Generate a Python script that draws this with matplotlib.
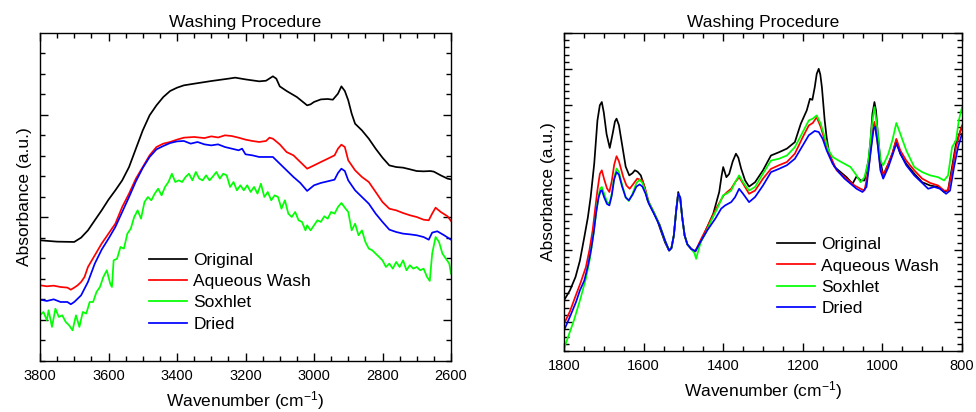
import numpy as np
import matplotlib
matplotlib.use("Agg")
import matplotlib.pyplot as plt
from matplotlib.ticker import MultipleLocator

plt.rcParams['font.family'] = ['Liberation Sans', 'DejaVu Sans']
plt.rcParams['mathtext.default'] = 'regular'

# --- high wavenumber region (3800-2600 cm-1) ---
hi_wn_orig = [3800, 3750, 3700, 3680, 3660, 3640, 3620, 3600, 3580, 3560, 3540, 3520, 3500,
              3480, 3460, 3440, 3420, 3400, 3380, 3350, 3300, 3250, 3230, 3200, 3160, 3140,
              3120, 3110, 3100, 3080, 3050, 3020, 3010, 3000, 2980, 2960, 2945, 2930, 2920,
              2910, 2900, 2890, 2880, 2860, 2840, 2820, 2800, 2780, 2760, 2740, 2720, 2700,
              2680, 2660, 2650, 2630, 2610, 2600]
hi_orig = [77.6, 76.3, 76.0, 80.2, 87.3, 97.1, 106.8, 117.2, 126.3, 136.0, 149.0, 166.9, 184.7,
           199.4, 209.1, 217.2, 223.1, 226.3, 228.6, 230.2, 232.8, 235.1, 236.1, 234.4, 232.5, 233.1,
           237.4, 235.1, 227.6, 223.1, 217.2, 209.1, 210.1, 212.4, 214.9, 215.3, 214.6, 220.5, 227.6,
           223.1, 214.0, 201.0, 191.2, 184.7, 176.6, 166.9, 158.1, 150.6, 149.0, 148.4, 146.8, 145.1,
           144.8, 145.1, 144.5, 140.9, 137.7, 137.0]

hi_wn_aq = [3800, 3780, 3760, 3740, 3720, 3710, 3700, 3690, 3680, 3670, 3660, 3640, 3620, 3600,
            3590, 3580, 3560, 3540, 3520, 3500, 3480, 3460, 3440, 3420, 3400, 3380, 3350, 3320,
            3300, 3280, 3260, 3240, 3220, 3200, 3180, 3160, 3140, 3130, 3120, 3100, 3080, 3060,
            3040, 3020, 3000, 2980, 2960, 2940, 2930, 2920, 2910, 2900, 2880, 2860, 2840, 2820,
            2800, 2780, 2760, 2740, 2720, 2700, 2680, 2665, 2655, 2645, 2630, 2610, 2600]
hi_aq = [33.8, 32.8, 33.4, 32.1, 31.5, 29.5, 31.5, 33.8, 37.0, 41.9, 51.6, 63.0, 74.4, 84.1,
         89.0, 93.8, 110.1, 123.1, 137.7, 149.0, 160.4, 168.5, 171.8, 173.4, 175.7, 177.6, 178.3, 177.2,
         178.9, 177.8, 179.9, 179.2, 177.6, 175.7, 174.4, 173.4, 174.4, 177.6, 176.6, 171.1, 163.6, 160.4,
         153.9, 147.4, 150.6, 153.9, 157.1, 160.4, 166.9, 170.8, 168.5, 155.5, 145.8, 139.3, 134.4, 124.7,
         114.9, 108.4, 106.8, 104.2, 102.0, 100.3, 97.7, 97.1, 103.6, 109.4, 105.2, 101.0, 96.4]

hi_wn_sox = [3800, 3790, 3780, 3775, 3765, 3755, 3745, 3735, 3725, 3715, 3705, 3695, 3685, 3675,
             3665, 3655, 3645, 3635, 3625, 3615, 3605, 3595, 3590, 3585, 3575, 3565, 3555, 3545,
             3535, 3525, 3515, 3505, 3495, 3485, 3475, 3465, 3455, 3445, 3435, 3425, 3415, 3405,
             3395, 3385, 3375, 3365, 3355, 3345, 3335, 3325, 3315, 3305, 3295, 3285, 3275, 3265,
             3255, 3245, 3235, 3225, 3215, 3205, 3195, 3185, 3175, 3165, 3155, 3145, 3135, 3125,
             3115, 3105, 3095, 3085, 3075, 3065, 3055, 3045, 3035, 3025, 3020, 3010, 3000, 2990,
             2980, 2970, 2960, 2950, 2940, 2930, 2920, 2910, 2900, 2890, 2880, 2870, 2860, 2850,
             2840, 2830, 2820, 2810, 2800, 2790, 2780, 2770, 2760, 2750, 2740, 2730, 2720, 2710,
             2700, 2690, 2680, 2670, 2662, 2655, 2645, 2635, 2625, 2615, 2605, 2600]
hi_sox = [4.5, 7.8, -0.3, 9.4, -6.8, 11.0, 2.9, 4.5, -1.9, -5.2, -10.1, 4.5, -6.8, 7.8,
          6.2, 17.5, 17.5, 27.3, 32.1, 41.9, 48.4, 35.4, 32.1, 58.1, 59.7, 71.1, 69.5, 84.1,
          89.0, 100.3, 106.8, 98.7, 114.9, 119.8, 116.6, 123.1, 127.9, 121.4, 129.6, 134.4, 142.5, 134.4,
          136.0, 134.4, 139.3, 142.5, 136.0, 144.2, 137.7, 136.0, 140.9, 136.0, 139.9, 144.2, 137.7, 142.5,
          140.9, 129.6, 134.4, 126.3, 131.2, 126.3, 131.2, 124.7, 129.6, 123.1, 132.8, 119.8, 124.7, 116.6,
          121.4, 119.8, 108.4, 116.6, 103.6, 100.3, 105.2, 97.1, 95.5, 87.3, 92.2, 87.3, 92.2, 97.1,
          95.5, 101.0, 98.7, 105.2, 103.6, 110.1, 114.0, 109.4, 105.2, 87.3, 93.8, 82.5, 87.3, 76.0,
          69.5, 67.9, 64.6, 61.4, 58.1, 51.6, 54.9, 50.0, 56.5, 51.6, 58.1, 48.4, 53.3, 50.0,
          51.6, 48.4, 50.0, 41.9, 38.0, 64.6, 80.8, 76.0, 64.6, 59.7, 54.9, 45.1]

hi_wn_dry = [3800, 3780, 3760, 3740, 3720, 3710, 3700, 3680, 3660, 3640, 3620, 3600, 3580, 3560,
             3540, 3520, 3500, 3480, 3460, 3440, 3420, 3400, 3380, 3360, 3340, 3320, 3300, 3280,
             3260, 3240, 3220, 3210, 3200, 3180, 3160, 3140, 3120, 3100, 3080, 3060, 3040, 3020,
             3000, 2980, 2960, 2940, 2930, 2920, 2910, 2900, 2880, 2860, 2840, 2820, 2800, 2780,
             2760, 2740, 2720, 2700, 2680, 2665, 2655, 2640, 2620, 2600]
hi_dry = [19.8, 18.5, 20.1, 17.5, 17.5, 15.3, 17.5, 24.0, 37.0, 54.9, 68.5, 79.2, 90.6, 105.2,
          119.8, 135.1, 148.1, 158.8, 166.2, 169.5, 172.4, 174.0, 174.4, 171.8, 173.4, 171.1, 170.1, 171.1,
          168.5, 166.9, 165.3, 166.9, 161.4, 160.4, 158.8, 158.8, 158.8, 152.3, 145.8, 139.3, 133.5, 125.7,
          131.2, 133.5, 135.1, 136.7, 143.2, 147.4, 145.1, 136.0, 126.3, 119.8, 113.3, 103.6, 95.5, 88.0,
          85.7, 84.1, 83.4, 82.5, 80.8, 78.2, 85.1, 86.4, 82.5, 78.2]

# --- fingerprint region (1800-800 cm-1) ---
lo_wn_orig = [1800, 1785, 1771, 1760, 1749, 1740, 1733, 1724, 1716, 1710, 1705, 1700, 1693,
              1685, 1678, 1672, 1668, 1662, 1653, 1645, 1636, 1628, 1622, 1615, 1607, 1598,
              1590, 1580, 1573, 1565, 1557, 1546, 1536, 1530, 1524, 1518, 1513, 1508, 1503,
              1497, 1490, 1480, 1470, 1455, 1440, 1425, 1410, 1404, 1400, 1396, 1392, 1385,
              1376, 1368, 1362, 1355, 1345, 1335, 1320, 1300, 1280, 1260, 1240, 1220, 1205,
              1190, 1182, 1176, 1170, 1165, 1160, 1156, 1152, 1145, 1140, 1135, 1128, 1120,
              1105, 1090, 1075, 1065, 1055, 1045, 1035, 1030, 1025, 1020, 1016, 1013, 1008,
              1005, 998, 985, 975, 965, 955, 940, 920, 900, 880, 860, 845, 835, 825, 815, 805, 800]
lo_orig = [0.60, 0.88, 1.25, 1.70, 2.35, 2.90, 3.46, 4.39, 5.58, 6.00, 6.09, 5.80, 5.20,
           4.82, 5.20, 5.55, 5.63, 5.45, 4.84, 4.30, 4.06, 4.12, 4.20, 4.16, 4.06, 3.75,
           3.37, 3.15, 3.00, 2.80, 2.54, 2.20, 1.98, 2.05, 2.40, 3.10, 3.60, 3.40, 2.90,
           2.40, 2.15, 2.02, 1.96, 2.26, 2.63, 3.00, 3.60, 4.05, 4.29, 4.15, 4.01, 4.10,
           4.45, 4.66, 4.55, 4.25, 3.92, 3.75, 3.87, 4.20, 4.61, 4.70, 4.80, 4.98, 5.49,
           5.86, 6.18, 6.15, 6.50, 6.87, 7.01, 6.85, 6.50, 5.58, 5.10, 4.75, 4.50, 4.29,
           4.15, 4.01, 3.83, 4.03, 3.92, 3.92, 4.47, 5.00, 5.77, 6.09, 5.85, 5.40, 4.80,
           4.47, 4.06, 4.38, 4.66, 5.03, 4.66, 4.38, 4.11, 3.87, 3.78, 3.74, 3.60, 3.65, 4.29, 4.94, 5.26, 5.40]

lo_wn_aq = [1800, 1785, 1770, 1758, 1745, 1736, 1728, 1722, 1716, 1710, 1705, 1699, 1692,
            1686, 1680, 1674, 1668, 1662, 1651, 1643, 1635, 1626, 1616, 1603, 1595, 1587,
            1575, 1560, 1546, 1536, 1530, 1524, 1518, 1513, 1508, 1503, 1497, 1490, 1480,
            1470, 1455, 1440, 1420, 1400, 1390, 1380, 1370, 1360, 1350, 1335, 1320, 1300,
            1280, 1260, 1240, 1220, 1200, 1185, 1175, 1165, 1155, 1145, 1130, 1115, 1100,
            1085, 1070, 1055, 1045, 1035, 1025, 1020, 1013, 1005, 998, 985, 975, 965, 955,
            940, 920, 900, 880, 860, 845, 835, 825, 815, 805, 800]
lo_aq = [-0.05, 0.30, 0.75, 1.10, 1.52, 2.00, 2.54, 3.10, 3.65, 4.10, 4.20, 3.95, 3.70,
         3.60, 3.90, 4.35, 4.59, 4.45, 4.01, 3.78, 3.69, 3.82, 3.97, 3.92, 3.65, 3.32,
         3.05, 2.70, 2.25, 1.98, 2.05, 2.40, 3.10, 3.55, 3.45, 2.90, 2.40, 2.15, 2.02,
         1.96, 2.31, 2.63, 3.09, 3.49, 3.60, 3.69, 3.87, 4.01, 3.83, 3.55, 3.64, 3.97,
         4.24, 4.34, 4.43, 4.66, 5.12, 5.44, 5.51, 5.67, 5.40, 5.03, 4.57, 4.20, 4.06,
         3.92, 3.78, 3.69, 3.64, 4.20, 5.21, 5.54, 5.03, 4.29, 4.06, 4.38, 4.66, 5.07, 4.75,
         4.47, 4.20, 3.97, 3.85, 3.78, 3.64, 3.64, 4.20, 4.84, 5.26, 5.44]

lo_wn_sox = [1800, 1790, 1775, 1760, 1745, 1735, 1727, 1720, 1714, 1709, 1705, 1699, 1692,
             1686, 1680, 1674, 1668, 1662, 1654, 1645, 1637, 1628, 1618, 1610, 1603, 1595,
             1587, 1575, 1560, 1546, 1536, 1530, 1524, 1518, 1513, 1508, 1503, 1497, 1490,
             1480, 1472, 1468, 1462, 1455, 1445, 1430, 1415, 1400, 1392, 1380, 1370, 1360,
             1350, 1335, 1320, 1300, 1280, 1260, 1240, 1220, 1200, 1185, 1175, 1165, 1155,
             1145, 1135, 1125, 1110, 1095, 1080, 1065, 1055, 1045, 1035, 1025, 1020, 1013,
             1005, 998, 985, 975, 965, 955, 940, 920, 900, 880, 860, 845, 835, 825, 815, 808, 800]
lo_sox = [-0.74, -0.42, 0.05, 0.60, 1.20, 1.75, 2.35, 2.95, 3.45, 3.70, 3.74, 3.55, 3.33,
          3.28, 3.55, 4.00, 4.25, 4.15, 3.80, 3.45, 3.35, 3.55, 3.85, 3.94, 3.85, 3.60,
          3.32, 3.05, 2.70, 2.25, 1.98, 2.05, 2.40, 3.10, 3.55, 3.45, 2.90, 2.40, 2.15,
          2.02, 1.90, 1.75, 2.00, 2.25, 2.44, 2.81, 3.14, 3.51, 3.55, 3.64, 3.87, 4.06,
          3.87, 3.64, 3.74, 4.11, 4.47, 4.52, 4.61, 4.84, 5.26, 5.58, 5.63, 5.72, 5.49,
          5.12, 4.75, 4.57, 4.47, 4.38, 4.29, 4.06, 3.87, 4.01, 4.47, 5.58, 5.95, 5.40,
          4.47, 4.34, 4.66, 5.03, 5.51, 5.21, 4.75, 4.29, 4.15, 4.06, 4.01, 3.92, 4.06, 4.84, 5.03, 5.58, 5.95]

lo_wn_dry = [1800, 1785, 1770, 1760, 1749, 1740, 1732, 1725, 1719, 1713, 1708, 1705, 1699,
             1692, 1686, 1680, 1674, 1668, 1662, 1654, 1645, 1637, 1628, 1618, 1610, 1603,
             1595, 1587, 1575, 1560, 1546, 1536, 1530, 1524, 1518, 1513, 1508, 1503, 1497,
             1490, 1480, 1470, 1455, 1440, 1420, 1405, 1395, 1380, 1370, 1360, 1350, 1335,
             1320, 1300, 1280, 1260, 1240, 1220, 1200, 1185, 1170, 1160, 1150, 1140, 1125,
             1110, 1095, 1080, 1065, 1050, 1040, 1030, 1022, 1018, 1012, 1005, 998, 985, 975,
             965, 955, 940, 920, 900, 885, 870, 855, 840, 830, 820, 810, 800]
lo_dry = [-0.23, 0.15, 0.55, 0.88, 1.15, 1.55, 2.00, 2.50, 3.05, 3.45, 3.63, 3.65, 3.45,
          3.27, 3.23, 3.50, 3.95, 4.15, 4.08, 3.75, 3.45, 3.37, 3.52, 3.75, 3.81, 3.75,
          3.55, 3.28, 3.02, 2.68, 2.25, 1.98, 2.05, 2.40, 3.10, 3.55, 3.45, 2.90, 2.40,
          2.15, 2.02, 1.96, 2.26, 2.54, 2.86, 3.14, 3.23, 3.32, 3.46, 3.69, 3.55, 3.32,
          3.46, 3.78, 4.15, 4.24, 4.34, 4.52, 4.89, 5.17, 5.29, 5.26, 5.07, 4.75, 4.38,
          4.15, 3.97, 3.83, 3.69, 3.60, 3.74, 4.66, 5.35, 5.40, 4.94, 4.20, 3.97, 4.29, 4.61,
          4.94, 4.66, 4.34, 4.06, 3.85, 3.69, 3.74, 3.69, 3.55, 3.64, 4.29, 4.84, 5.21]

labels = ["Original", "Aqueous Wash", "Soxhlet", "Dried"]
colors = ["black", "#ff0000", "#00ff00", "#0000ff"]

fig = plt.figure(figsize=(9.76, 4.12), dpi=100)
ax1 = fig.add_axes([40 / 976, 1 - 361 / 412, 411 / 976, 328 / 412])
ax2 = fig.add_axes([564 / 976, 1 - 351 / 412, 398 / 976, 318 / 412])

hi = [(hi_wn_orig, hi_orig), (hi_wn_aq, hi_aq), (hi_wn_sox, hi_sox), (hi_wn_dry, hi_dry)]
lo = [(lo_wn_orig, lo_orig), (lo_wn_aq, lo_aq), (lo_wn_sox, lo_sox), (lo_wn_dry, lo_dry)]

for (x, y), lab, c in zip(hi, labels, colors):
    ax1.plot(x, y, color=c, lw=1.25, label=lab)
for (x, y), lab, c in zip(lo, labels, colors):
    ax2.plot(x, y, color=c, lw=1.25, label=lab)

ax1.set_xlim(3800, 2600)
ax1.set_ylim(-40, 279.6)
ax1.xaxis.set_major_locator(MultipleLocator(200))
ax1.xaxis.set_minor_locator(MultipleLocator(50))
ax1.yaxis.set_major_locator(MultipleLocator(100))
ax1.yaxis.set_minor_locator(MultipleLocator(20))

ax2.set_xlim(1800, 800)
ax2.set_ylim(-0.8, 8.0)
ax2.xaxis.set_major_locator(MultipleLocator(200))
ax2.xaxis.set_minor_locator(MultipleLocator(50))
ax2.yaxis.set_major_locator(MultipleLocator(1))
ax2.yaxis.set_minor_locator(MultipleLocator(0.2))

for ax in (ax1, ax2):
    ax.tick_params(which='both', direction='in', top=True, right=True, width=1.0,
                   labelleft=False, labelsize=10.5, pad=6)
    ax.tick_params(which='major', length=6)
    ax.tick_params(which='minor', length=3.5)
    for sp in ax.spines.values():
        sp.set_linewidth(1.0)
    ax.set_title("Washing Procedure", fontsize=12.5, pad=4)
    ax.set_xlabel("Wavenumber (cm$^{-1}$)", fontsize=12.5, labelpad=4)
    ax.set_ylabel("Absorbance (a.u.)", fontsize=12.5, labelpad=6)

ax1.legend(loc='upper left', bbox_to_anchor=(0.265, 0.33), frameon=False, fontsize=12.5,
           handlelength=2.2, handletextpad=0.35, labelspacing=0.35, borderpad=0, borderaxespad=0)
ax2.legend(loc='upper left', bbox_to_anchor=(0.535, 0.358), frameon=False, fontsize=12.5,
           handlelength=2.2, handletextpad=0.35, labelspacing=0.35, borderpad=0, borderaxespad=0)

fig.savefig("out.png", dpi=100)
